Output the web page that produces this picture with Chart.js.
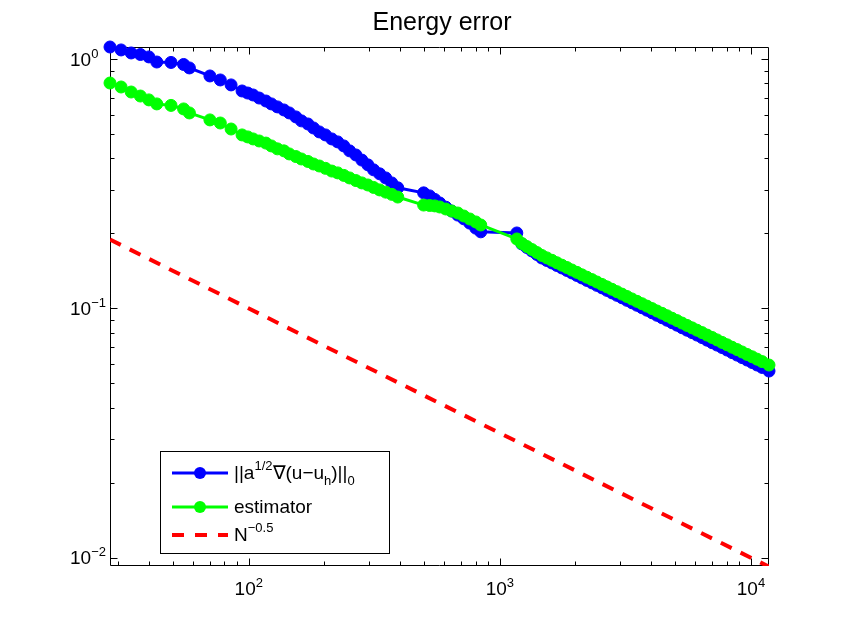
<!DOCTYPE html>
<html><head><meta charset="utf-8">
<script src="https://cdn.jsdelivr.net/npm/chart.js@4.4.1/dist/chart.umd.min.js"></script>
<style>html,body{margin:0;padding:0;background:#fff;overflow:hidden}#wrap{width:850px;height:639px;position:relative}canvas{display:block}</style>
</head><body><div id="wrap"><canvas id="c" width="850" height="639"></canvas></div>
<script>
const titleText = 'Energy error';
const legendLabels = ['||a^{1/2}\u2207(u\u2212u_{h})||_{0}', 'estimator', 'N^{\u22120.5}'];
const xTickExps = [2, 3, 4];
const yTickExps = [0, -1, -2];
const xRange = [28, 11800];
const yRange = [0.00926, 1.12];

const N = [28,31,34,37,40,43,49,55,58,70,77,85,
94,99,104,110,117,123,130,138,145,154,162,172,181,191,202,214,226,239,252,267,282,298,314,332,351,371,392,
497,525,550,
576,609,643,680,718,759,802,839,
1168,1223,1280,1341,1404,
1469,1538,1611,1686,1766,1849,1935,2026,2121,2221,2325,2434,2549,2669,2794,2926,3063,3207,3357,3516,3680,3853,4035,4224,4423,4631,4848,5076,5314,5565,5826,6099,6387,6687,7002,7328,7672,8034,8411,8807,9219,9652,10106,10580,11078,11800];

const errEnergy = [1.120,1.090,1.060,1.045,1.022,0.975,0.971,0.953,0.923,0.857,0.826,0.789,
0.746,0.732,0.719,0.699,0.680,0.662,0.644,0.626,0.609,0.587,0.566,0.550,0.530,0.511,0.497,0.479,0.466,0.449,0.429,0.413,0.394,0.377,0.360,0.347,0.334,0.319,0.305,
0.291,0.283,0.274,
0.265,0.255,0.246,0.237,0.229,0.220,0.210,0.203,
0.2009,0.1815,0.1757,0.1701,0.1647,
0.1594,0.1558,0.1523,0.1488,0.1454,0.1421,0.1389,0.1357,0.1326,0.1296,
0.1267,0.1238,0.1210,0.1182,0.1155,0.1129,0.1104,0.1078,0.1054,0.1030,
0.1007,0.0984,0.0961,0.0939,0.0918,0.0897,0.0877,0.0857,0.0837,0.0818,
0.0800,0.0782,0.0764,0.0746,0.0729,0.0713,0.0697,0.0681,0.0665,0.0650,
0.0635,0.0621,0.0607,0.0593,0.0580,0.0561];

const estimator = [0.803,0.774,0.739,0.712,0.687,0.662,0.653,0.632,0.609,0.571,0.555,0.525,
0.497,0.488,0.479,0.470,0.461,0.449,0.437,0.429,0.417,0.407,0.398,0.389,0.380,0.373,0.365,0.356,0.350,0.342,0.334,0.326,0.319,0.313,0.306,0.299,0.293,0.287,0.280,
0.260,0.259,0.258,
0.2554,0.2507,0.2461,0.2416,0.2350,0.2286,0.2224,0.2163,
0.1901,0.1823,0.1773,0.1724,0.1677,
0.1632,0.1596,0.1561,0.1526,0.1492,0.1460,0.1427,0.1396,0.1365,0.1335,
0.1306,0.1277,0.1249,0.1221,0.1194,0.1168,0.1142,0.1117,0.1092,0.1068,
0.1045,0.1022,0.0999,0.0977,0.0956,0.0935,0.0914,0.0894,0.0874,0.0855,
0.0836,0.0818,0.0800,0.0782,0.0765,0.0748,0.0731,0.0715,0.0699,0.0684,
0.0669,0.0654,0.0640,0.0626,0.0612,0.0593];

const refN = [28, 11800];
const refRate = [0.189, 0.0092];

const FONT = '"Liberation Sans", Arial, Helvetica, sans-serif';
const BLUE = '#0000ff', GREEN = '#00ff00', RED = '#ff0000';

function parseRich(s) {
  const segs = []; let cur = '';
  for (let i = 0; i < s.length; i++) {
    const c = s[i];
    if (c === '^' || c === '_') {
      if (cur) { segs.push({t: cur, m: 0}); cur = ''; }
      let t = '';
      if (s[i+1] === '{') { let j = i + 2; while (j < s.length && s[j] !== '}') { t += s[j]; j++; } i = j; }
      else { t = s[i+1]; i++; }
      segs.push({t, m: c === '^' ? 1 : -1});
    } else cur += c;
  }
  if (cur) segs.push({t: cur, m: 0});
  return segs;
}
function richWidth(ctx, segs, size, small) {
  let w = 0;
  for (const s of segs) { ctx.font = (s.m ? small : size) + 'px ' + FONT; w += ctx.measureText(s.t).width; }
  return w;
}
function drawRich(ctx, segs, x, y, size, small, supOff, subOff) {
  ctx.textBaseline = 'alphabetic'; ctx.textAlign = 'left';
  for (const s of segs) {
    ctx.font = (s.m ? small : size) + 'px ' + FONT;
    const dy = s.m === 1 ? -supOff : (s.m === -1 ? subOff : 0);
    ctx.fillText(s.t, x, y + dy);
    x += ctx.measureText(s.t).width;
  }
}

const framePlugin = {
  id: 'frame',
  beforeDatasetsDraw(chart) {
    const {ctx, chartArea: a, scales: {x, y}} = chart;
    ctx.save();
    ctx.strokeStyle = '#000'; ctx.lineWidth = 1;
    const L = Math.round(a.left) + 0.5, R = Math.round(a.right) - 0.5, T = Math.round(a.top) + 0.5, B = Math.round(a.bottom) - 0.5;
    ctx.beginPath(); ctx.rect(L, T, R - L, B - T); ctx.stroke();
    ctx.beginPath();
    for (let d = 1; d <= 4; d++) for (let m = 1; m <= 9; m++) {
      const v = m * Math.pow(10, d);
      if (v < xRange[0] || v > xRange[1]) continue;
      const px = Math.round(x.getPixelForValue(v)) + 0.5; const len = m === 1 ? 7 : 4;
      ctx.moveTo(px, B); ctx.lineTo(px, B - len);
      ctx.moveTo(px, T); ctx.lineTo(px, T + len);
    }
    for (let d = -3; d <= 0; d++) for (let m = 1; m <= 9; m++) {
      const v = m * Math.pow(10, d);
      if (v < yRange[0] || v > yRange[1]) continue;
      const py = Math.round(y.getPixelForValue(v)) + 0.5; const len = m === 1 ? 7 : 4;
      ctx.moveTo(L, py); ctx.lineTo(L + len, py);
      ctx.moveTo(R, py); ctx.lineTo(R - len, py);
    }
    ctx.stroke();
    ctx.restore();
  },
  afterDraw(chart) {
    const {ctx, chartArea: a, scales: {x, y}} = chart;
    ctx.save();
    ctx.fillStyle = '#000';
    // title
    ctx.font = '25px ' + FONT; ctx.textAlign = 'center'; ctx.textBaseline = 'alphabetic';
    ctx.fillText(titleText, 442, 30);
    // x tick labels
    for (const e of xTickExps) {
      const segs = [{t: '10', m: 0}, {t: String(e).replace('-', '\u2212'), m: 1}];
      const w = richWidth(ctx, segs, 19, 13);
      const px = x.getPixelForValue(Math.pow(10, e));
      drawRich(ctx, segs, px - w / 2, 595, 19, 13, 8, 5);
    }
    // y tick labels
    for (const e of yTickExps) {
      const segs = [{t: '10', m: 0}, {t: String(e).replace('-', '\u2212'), m: 1}];
      const py = y.getPixelForValue(Math.pow(10, e));
      drawRich(ctx, segs, 70, py + 6.5, 19, 13, 8, 5);
    }
    // legend
    const bx = 160.5, by = 451.5, bw = 229, bh = 102;
    ctx.fillStyle = '#fff'; ctx.fillRect(bx, by, bw, bh);
    ctx.strokeStyle = '#000'; ctx.lineWidth = 1; ctx.strokeRect(bx, by, bw, bh);
    const rows = [
      {y: 473, color: BLUE, marker: true, dash: [], lw: 3},
      {y: 507, color: GREEN, marker: true, dash: [], lw: 3},
      {y: 535, color: RED, marker: false, dash: [12, 11], lw: 4}
    ];
    rows.forEach((r, i) => {
      ctx.save();
      ctx.strokeStyle = r.color; ctx.lineWidth = r.lw; ctx.setLineDash(r.dash);
      ctx.beginPath(); ctx.moveTo(172, r.y); ctx.lineTo(228, r.y); ctx.stroke();
      if (r.marker) { ctx.fillStyle = r.color; ctx.beginPath(); ctx.arc(200, r.y, 6, 0, Math.PI * 2); ctx.fill(); }
      ctx.restore();
      ctx.fillStyle = '#000';
      drawRich(ctx, parseRich(legendLabels[i]), 234, r.y + 6, 19, 13, 9, 6);
    });
    ctx.restore();
  }
};

new Chart(document.getElementById('c'), {
  type: 'scatter',
  data: {
    datasets: [
      {label: legendLabels[0], data: N.map((n, i) => ({x: n, y: errEnergy[i]})), showLine: true,
       borderColor: BLUE, backgroundColor: BLUE, borderWidth: 3, pointRadius: 6, pointBorderWidth: 1,
       pointBackgroundColor: BLUE, pointBorderColor: BLUE, pointHoverRadius: 6, clip: false, order: 2, tension: 0},
      {label: legendLabels[1], data: N.map((n, i) => ({x: n, y: estimator[i]})), showLine: true,
       borderColor: GREEN, backgroundColor: GREEN, borderWidth: 3, pointRadius: 6, pointBorderWidth: 1,
       pointBackgroundColor: GREEN, pointBorderColor: GREEN, pointHoverRadius: 6, clip: false, order: 1, tension: 0},
      {label: legendLabels[2], data: refN.map((n, i) => ({x: n, y: refRate[i]})), showLine: true,
       borderColor: RED, backgroundColor: RED, borderWidth: 4, borderDash: [12, 10], pointRadius: 0, order: 0}
    ]
  },
  options: {
    responsive: false, animation: false, devicePixelRatio: 1,
    layout: {padding: {left: 110, right: 81, top: 47, bottom: 73}},
    plugins: {legend: {display: false}, title: {display: false}, tooltip: {enabled: false}},
    events: [],
    scales: {
      x: {type: 'logarithmic', min: xRange[0], max: xRange[1], display: false},
      y: {type: 'logarithmic', min: yRange[0], max: yRange[1], display: false}
    }
  },
  plugins: [framePlugin]
});
</script>
</body></html>
